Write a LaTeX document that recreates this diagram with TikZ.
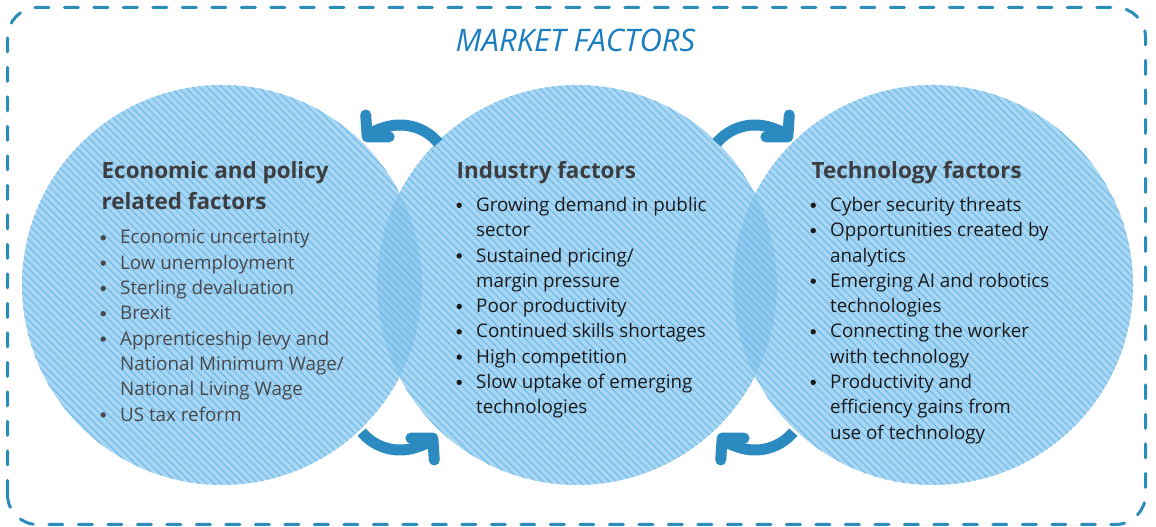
\documentclass[tikz,border=0pt]{standalone}
\usepackage{fontspec}
\setmainfont{Open Sans}
\usetikzlibrary{arrows.meta,patterns.meta,calc}

\definecolor{frameblue}{HTML}{2A8CB8}
\definecolor{titleblue}{HTML}{1A7DC0}
\definecolor{arrowblue}{HTML}{2B8BC0}
\definecolor{discfill}{HTML}{8CC8EE}
\definecolor{discline}{HTML}{6AB8EA}
\definecolor{headgray}{HTML}{3D3D40}
\definecolor{softgray}{HTML}{48484B}
\definecolor{inkdark}{HTML}{1A1A1A}

% round bullet centred on the line start, text indented after it
\newcommand{\bul}{\makebox[0pt]{\tikz[baseline=0pt]\fill[fill=.] (0,6.2pt) circle[radius=2.7pt];}\hspace{17pt}}
\newcommand{\cont}{\hspace{17pt}}

\begin{document}
\begin{tikzpicture}[x=1pt,y=1pt,
  frame/.style={draw=frameblue, line width=3pt, dash pattern=on 14pt off 15.5pt,
    line cap=round, rounded corners=30pt},
  disc/.style={circle, minimum size=400pt, inner sep=0pt, fill=discfill,
    fill opacity=0.75,
    postaction={pattern={Lines[angle=-45,distance=5.2pt,line width=1pt]},
      pattern color=discline}},
  heading/.style={inner sep=0pt, anchor=base west, text=headgray,
    font=\fontsize{22.4}{31.5}\selectfont\bfseries},
  itemlist/.style={inner sep=0pt, anchor=base west,
    font=\fontsize{18.8}{25.3}\selectfont},
  banner/.style={inner sep=0pt, anchor=base, text=titleblue,
    font=\fontsize{31}{34}\selectfont\itshape},
  cyclearrow/.style={draw=arrowblue, line width=11pt,
    -{Straight Barb[length=15pt, width=32pt, round]}}
]
\useasboundingbox (0,0) rectangle (1156,527);

% outer dashed frame
\draw[frame] (7.5,2.5) rectangle (1145.5,519.5);

\node[banner] (title) at (575.5,475) {MARKET FACTORS};

% the three factor discs
\node[disc] (econ) at (222,242) {};
\node[disc] (ind)  at (577,242) {};
\node[disc] (tech) at (933,242) {};

% cycle arrows between the discs
\coordinate (tl) at (400,352);
\coordinate (tr) at (755,352);
\coordinate (bl) at (400,127);
\coordinate (br) at (755,127);
\draw[cyclearrow] ($(tl)+(40:50)$) arc[start angle=40, end angle=137, radius=50];
\draw[cyclearrow] ($(tr)+(140:50)$) arc[start angle=140, end angle=43, radius=50];
\draw[cyclearrow] ($(bl)+(220:50)$) arc[start angle=220, end angle=317, radius=50];
\draw[cyclearrow] ($(br)+(-40:50)$) arc[start angle=-40, end angle=-137, radius=50];

% economic and policy column
\node[heading] (econhead) at (101.5,348.5)
  {\begin{tabular}[t]{@{}l@{}}Economic and policy\\related factors\end{tabular}};
\node[itemlist, text=softgray] (econlist) at (103,283)
  {\begin{tabular}[t]{@{}l@{}}
   \bul Economic uncertainty\\
   \bul Low unemployment\\
   \bul Sterling devaluation\\
   \bul Brexit\\
   \bul Apprenticeship levy and\\
   \cont National Minimum Wage/\\
   \cont National Living Wage\\
   \bul US tax reform
   \end{tabular}};

% industry column
\node[heading] (indhead) at (456.5,348.5) {Industry factors};
\node[itemlist, text=inkdark] (indlist) at (459,315.5)
  {\begin{tabular}[t]{@{}l@{}}
   \bul Growing demand in public\\
   \cont sector\\
   \bul Sustained pricing/\\
   \cont margin pressure\\
   \bul Poor productivity\\
   \bul Continued skills shortages\\
   \bul High competition\\
   \bul Slow uptake of emerging\\
   \cont technologies
   \end{tabular}};

% technology column
\node[heading] (techhead) at (811.5,348.5) {Technology factors};
\node[itemlist, text=inkdark] (techlist) at (813,315.5)
  {\begin{tabular}[t]{@{}l@{}}
   \bul Cyber security threats\\
   \bul Opportunities created by\\
   \cont analytics\\
   \bul Emerging AI and robotics\\
   \cont technologies\\
   \bul Connecting the worker\\
   \cont with technology\\
   \bul Productivity and\\
   \cont efficiency gains from\\
   \cont use of technology
   \end{tabular}};
\end{tikzpicture}
\end{document}
